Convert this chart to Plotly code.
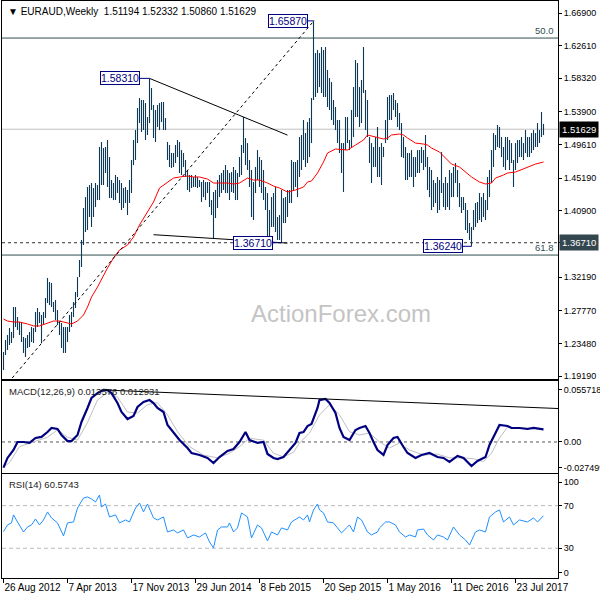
import plotly.graph_objects as go
import pandas as pd

# ---------------- data ----------------
dates = pd.date_range("2012-08-26", periods=271, freq="7D")

high = [
    1.2235, 1.2392, 1.2458, 1.2550, 1.2498, 1.2826, 1.2826, 1.2695, 1.2629, 1.2616,
    1.2432, 1.2418, 1.2458, 1.2498, 1.2563, 1.2550, 1.2761, 1.2813, 1.2761, 1.2721,
    1.2761, 1.2944, 1.3207, 1.3155, 1.3142, 1.2892, 1.2918, 1.2787, 1.2629, 1.2616,
    1.2563, 1.2563, 1.2563, 1.2721, 1.2761, 1.2892, 1.3024, 1.3220, 1.3444, 1.3707,
    1.4127, 1.4271, 1.4403, 1.4429, 1.4456, 1.4390, 1.4456, 1.4429, 1.4929, 1.4995,
    1.4916, 1.4929, 1.5021, 1.4797, 1.4495, 1.4456, 1.4561, 1.4535, 1.4495, 1.4456,
    1.4390, 1.4403, 1.4364, 1.4495, 1.4758, 1.5021, 1.5152, 1.5441, 1.5573, 1.5547,
    1.5547, 1.5507, 1.5323, 1.5831, 1.5705, 1.5481, 1.5415, 1.5481, 1.5507, 1.5520,
    1.5520, 1.5310, 1.4995, 1.4955, 1.4850, 1.4850, 1.4955, 1.5021, 1.4995, 1.4889,
    1.4850, 1.4758, 1.4627, 1.4561, 1.4561, 1.4535, 1.4561, 1.4535, 1.4495, 1.4469,
    1.4495, 1.4469, 1.4469, 1.4469, 1.4232, 1.4338, 1.4364, 1.4495, 1.4561, 1.4587,
    1.4627, 1.4692, 1.4627, 1.4587, 1.4600, 1.4666, 1.4627, 1.4587, 1.4797, 1.4955,
    1.5323, 1.5047, 1.4981, 1.4758, 1.4627, 1.4469, 1.4666, 1.4889, 1.4797, 1.4758,
    1.4627, 1.4403, 1.4324, 1.4101, 1.4271, 1.4324, 1.4403, 1.4009, 1.4035, 1.4364,
    1.4258, 1.4271, 1.4364, 1.4364, 1.4758, 1.4732, 1.4732, 1.4758, 1.5060, 1.5087,
    1.5284, 1.5113, 1.5257, 1.5310, 1.5573, 1.6587, 1.6164, 1.6204, 1.6164, 1.6243,
    1.6204, 1.6243, 1.5941, 1.5836, 1.5783, 1.5547, 1.5455, 1.5284, 1.5284, 1.4981,
    1.4981, 1.5323, 1.5323, 1.5021, 1.5415, 1.5717, 1.6072, 1.6033, 1.5717, 1.5810,
    1.6243, 1.5678, 1.5547, 1.5060, 1.4981, 1.4929, 1.5060, 1.5192, 1.4929, 1.4981,
    1.4929, 1.5284, 1.5586, 1.5612, 1.5612, 1.5639, 1.5547, 1.5507, 1.5376, 1.5244,
    1.5060, 1.4929, 1.4850, 1.4850, 1.4889, 1.4797, 1.4797, 1.4889, 1.4889, 1.4929,
    1.4889, 1.5087, 1.4797, 1.4666, 1.4627, 1.4495, 1.4456, 1.4535, 1.4495, 1.4863,
    1.4456, 1.4535, 1.4456, 1.4627, 1.4587, 1.4666, 1.4719, 1.4627, 1.4456, 1.4271,
    1.4271, 1.4193, 1.4101, 1.3930, 1.3878, 1.4101, 1.4193, 1.4206, 1.4324, 1.4271,
    1.4324, 1.4232, 1.4535, 1.4627, 1.4889, 1.5113, 1.5087, 1.5218, 1.5192, 1.5060,
    1.4929, 1.5060, 1.5060, 1.5021, 1.4981, 1.4758, 1.4981, 1.5021, 1.5021, 1.5060,
    1.4981, 1.5152, 1.5060, 1.5060, 1.5113, 1.5152, 1.5113, 1.5244, 1.5152, 1.5389,
    1.52332,
]

low = [
    1.1998, 1.2195, 1.2261, 1.2327, 1.2353, 1.2418, 1.2563, 1.2524, 1.2458, 1.2366,
    1.2222, 1.2169, 1.2287, 1.2300, 1.2366, 1.2353, 1.2498, 1.2563, 1.2616, 1.2353,
    1.2590, 1.2682, 1.2879, 1.2852, 1.2826, 1.2761, 1.2655, 1.2590, 1.2458, 1.2287,
    1.2222, 1.2222, 1.2366, 1.2498, 1.2563, 1.2695, 1.2813, 1.2957, 1.3220, 1.3352,
    1.3641, 1.3812, 1.3838, 1.4009, 1.3878, 1.4009, 1.4140, 1.4232, 1.4232, 1.4429,
    1.4429, 1.4587, 1.4403, 1.4258, 1.4258, 1.4232, 1.4232, 1.4324, 1.4193, 1.4101,
    1.4127, 1.4193, 1.4035, 1.4193, 1.4324, 1.4692, 1.4758, 1.4981, 1.5244, 1.5126,
    1.5152, 1.5021, 1.5087, 1.5244, 1.5415, 1.5047, 1.4995, 1.5192, 1.5152, 1.5257,
    1.5152, 1.5152, 1.4758, 1.4666, 1.4653, 1.4666, 1.4719, 1.4797, 1.4587, 1.4561,
    1.4666, 1.4535, 1.4364, 1.4338, 1.4390, 1.4403, 1.4403, 1.4390, 1.4403, 1.4206,
    1.4271, 1.4232, 1.4324, 1.4140, 1.4035, 1.3727, 1.3996, 1.4127, 1.4271, 1.4324,
    1.4364, 1.4324, 1.4324, 1.4232, 1.4338, 1.4324, 1.4232, 1.4232, 1.4535, 1.4561,
    1.4850, 1.4692, 1.4627, 1.4403, 1.4009, 1.3969, 1.4324, 1.4495, 1.4403, 1.4324,
    1.4232, 1.4101, 1.3707, 1.3707, 1.3878, 1.3878, 1.3812, 1.3707, 1.3707, 1.3671,
    1.3930, 1.3930, 1.4009, 1.4193, 1.4193, 1.4364, 1.4403, 1.4271, 1.4535, 1.4627,
    1.4758, 1.4666, 1.4719, 1.4797, 1.4981, 1.5547, 1.5586, 1.5639, 1.5717, 1.5639,
    1.5586, 1.5586, 1.5455, 1.5415, 1.5284, 1.5218, 1.5152, 1.4981, 1.4850, 1.4587,
    1.4338, 1.4889, 1.4981, 1.4889, 1.4916, 1.5060, 1.5323, 1.5323, 1.5192, 1.5244,
    1.5639, 1.5152, 1.5060, 1.4719, 1.4456, 1.4666, 1.4666, 1.4535, 1.4535, 1.4429,
    1.4797, 1.4981, 1.5021, 1.5284, 1.5284, 1.5415, 1.5323, 1.5192, 1.5152, 1.4797,
    1.4784, 1.4495, 1.4495, 1.4535, 1.4535, 1.4403, 1.4535, 1.4587, 1.4587, 1.4719,
    1.4627, 1.4666, 1.4364, 1.4271, 1.4101, 1.4140, 1.4193, 1.4061, 1.4101, 1.4324,
    1.4140, 1.4101, 1.4140, 1.4101, 1.4271, 1.4271, 1.4456, 1.4271, 1.4140, 1.4061,
    1.4101, 1.3838, 1.3799, 1.3707, 1.3624, 1.3838, 1.3878, 1.3930, 1.3969, 1.3943,
    1.4009, 1.3969, 1.4101, 1.4271, 1.4456, 1.4666, 1.4889, 1.4929, 1.4916, 1.4797,
    1.4666, 1.4627, 1.4758, 1.4627, 1.4719, 1.4403, 1.4627, 1.4719, 1.4797, 1.4797,
    1.4758, 1.4850, 1.4797, 1.4797, 1.4850, 1.4889, 1.4929, 1.4929, 1.4981, 1.5060,
    1.50860,
]

# moving average (red), sampled bar index -> value
ma_idx = [0, 2, 5, 8, 12, 15, 18, 22, 25, 28, 32, 34, 37, 40, 42, 44, 47, 50, 52, 55,
          58, 62, 65, 68, 72, 75, 78, 82, 85, 88, 92, 95, 98, 102, 105, 108, 112, 115, 118, 122,
          125, 128, 132, 135, 138, 142, 146, 150, 152, 154, 157, 160, 162, 166, 170, 172, 176, 180, 182, 184,
          187, 190, 192, 194, 198, 200, 202, 206, 210, 212, 214, 218, 221, 224, 228, 231, 234, 238, 241, 244,
          246, 250, 252, 256, 260, 262, 266, 270]
ma_val = [1.2668, 1.2642, 1.2629, 1.2629, 1.2603, 1.2577, 1.2577, 1.2616, 1.2642, 1.2642,
          1.2616, 1.2603, 1.2642, 1.2721, 1.2826, 1.2957, 1.3089, 1.3247, 1.3339, 1.3470,
          1.3575, 1.3641, 1.3746, 1.3904, 1.4075, 1.4206, 1.4390, 1.4469, 1.4521, 1.4535,
          1.4548, 1.4535, 1.4535, 1.4508, 1.4456, 1.4456, 1.4456, 1.4443, 1.4456, 1.4521,
          1.4495, 1.4495, 1.4456, 1.4416, 1.4390, 1.4337, 1.4364, 1.4403, 1.4469, 1.4482,
          1.4587, 1.4732, 1.4850, 1.4903, 1.4889, 1.4889, 1.4955, 1.5021, 1.5087, 1.5074,
          1.5047, 1.5034, 1.5047, 1.5087, 1.5100, 1.5087, 1.5047, 1.4981, 1.4968, 1.4955,
          1.4916, 1.4863, 1.4784, 1.4705, 1.4666, 1.4600, 1.4535, 1.4469, 1.4443, 1.4456,
          1.4521, 1.4561, 1.4587, 1.4600, 1.4640, 1.4666, 1.4705, 1.4732]

macd_idx = [0, 2, 5, 7, 10, 13, 16, 19, 22, 24, 27, 29, 32, 34, 37, 39, 42, 44, 47, 50,
            52, 54, 57, 59, 62, 65, 67, 70, 73, 75, 77, 80, 82, 85, 88, 92, 94, 98, 102, 105,
            108, 112, 115, 118, 121, 123, 127, 130, 132, 135, 137, 140, 143, 146, 148, 150, 152, 154, 157, 158,
            161, 163, 166, 168, 170, 173, 176, 178, 181, 183, 185, 187, 190, 192, 195, 197, 200, 202, 206, 209,
            213, 217, 220, 223, 227, 230, 234, 237, 241, 243, 246, 248, 252, 254, 258, 262, 265, 270]
macd_val = [-0.0275, -0.0171, -0.0086, 0.0, 0.0, -0.0010, 0.0043, 0.0054, 0.0107, 0.0150,
            0.0139, 0.0075, 0.0010, 0.0010, 0.0075, 0.0214, 0.0364, 0.0471, 0.0524, 0.0557,
            0.0556, 0.0524, 0.0417, 0.0321, 0.0246, 0.0278, 0.0375, 0.0428, 0.0449, 0.0417,
            0.0364, 0.0321, 0.0182, 0.0096, 0.0021, -0.0064, -0.0118, -0.0139, -0.0171, -0.0225,
            -0.0161, -0.0096, -0.0075, 0.0, 0.0107, 0.0021, -0.0010, 0.0, -0.0128, -0.0171,
            -0.0182, -0.0161, -0.0086, -0.0010, 0.0096, 0.0107, 0.0171, 0.0193, 0.0364, 0.0449,
            0.0460, 0.0417, 0.0310, 0.0150, 0.0054, 0.0021, 0.0128, 0.0150, 0.0171, 0.0096,
            0.0, -0.0086, -0.0139, -0.0032, 0.0043, 0.0054, -0.0054, -0.0118, -0.0171, -0.0139,
            -0.0118, -0.0161, -0.0171, -0.0214, -0.0150, -0.0171, -0.0257, -0.0203, -0.0161, -0.0032,
            0.0096, 0.0182, 0.0171, 0.0150, 0.0150, 0.0139, 0.0150, 0.013576]

sig_idx = [0, 3, 8, 15, 22, 27, 32, 37, 42, 47, 52, 57, 62, 67, 72, 77, 82, 87, 93, 100,
           107, 113, 118, 123, 130, 135, 140, 145, 148, 153, 158, 163, 168, 173, 178, 183, 188, 193, 198, 203,
           210, 217, 223, 230, 235, 240, 244, 248, 252, 258, 265, 270]
sig_val = [-0.0270, -0.0220, -0.0050, 0.0, 0.0050, 0.0130, 0.0050, 0.0020, 0.0210, 0.0450,
           0.0530, 0.0480, 0.0320, 0.0310, 0.0400, 0.0420, 0.0290, 0.0110, -0.0050, -0.0140,
           -0.0170, -0.0120, -0.0050, 0.0040, 0.0020, -0.0120, -0.0160, -0.0110, -0.0010, 0.0096,
           0.0290, 0.0400, 0.0290, 0.0110, 0.0075, 0.0096, 0.0, -0.0064, -0.0010, -0.0086,
           -0.0140, -0.0130, -0.0170, -0.0170, -0.0180, -0.0210, -0.0120, 0.0043, 0.0160, 0.0150,
           0.0150, 0.012931]

rsi_idx = [0, 2, 4, 5, 7, 10, 12, 14, 16, 18, 20, 22, 24, 27, 30, 32, 35, 37, 40, 42,
           44, 46, 48, 49, 51, 53, 56, 58, 61, 63, 66, 68, 70, 72, 75, 77, 80, 82, 85, 87,
           90, 92, 95, 98, 101, 103, 105, 107, 109, 112, 113, 115, 117, 119, 122, 124, 127, 129, 132, 134,
           137, 139, 142, 144, 148, 150, 152, 153, 155, 157, 158, 160, 162, 165, 167, 169, 172, 173, 175, 177,
           179, 182, 184, 187, 188, 191, 193, 196, 198, 201, 203, 206, 207, 210, 212, 215, 217, 220, 222, 225,
           228, 231, 233, 236, 238, 241, 243, 246, 248, 250, 253, 255, 258, 262, 265, 267, 270]
rsi_val = [45.6, 51.9, 53.8, 61.3, 54.7, 45.3, 50.0, 51.9, 57.5, 51.9, 56.6, 64.1, 58.5, 53.8, 41.6, 53.8, 54.7, 67.8, 77.2, 78.2,
           76.3, 73.5, 80.0, 68.8, 71.6, 59.4, 61.3, 53.8, 56.6, 54.7, 67.8, 72.5, 64.1, 71.6, 58.5, 56.6, 59.4, 45.3, 47.2, 44.4,
           47.2, 39.7, 42.5, 40.6, 44.4, 35.9, 30.3, 47.2, 50.0, 50.0, 53.8, 45.3, 49.1, 63.2, 59.4, 39.7, 51.9, 49.1, 36.9, 45.3,
           42.5, 49.1, 47.2, 54.7, 59.4, 56.6, 61.3, 54.7, 66.0, 71.6, 66.0, 63.2, 54.7, 53.8, 49.1, 44.4, 50.0, 51.9, 45.3, 59.4,
           56.6, 45.3, 42.5, 45.3, 49.1, 54.7, 54.7, 51.9, 45.3, 40.6, 42.5, 40.6, 47.2, 48.1, 42.5, 37.8, 42.5, 40.6, 37.8, 50.0,
           42.5, 37.8, 33.1, 45.3, 47.2, 45.3, 59.4, 64.1, 66.0, 54.7, 59.4, 51.9, 56.6, 54.7, 58.5, 54.7, 60.5743]

price_ticks = [1.66900, 1.62610, 1.58320, 1.53900, 1.49610, 1.45190,
               1.40900, 1.36710, 1.32190, 1.27770, 1.23480, 1.19190]
macd_ticks = [0.055718, 0.0, -0.027499]
macd_tick_text = ["0.055718", "0.00", "-0.027499"]
rsi_levels = [70, 30]
x_tick_labels = ["26 Aug 2012", "7 Apr 2013", "17 Nov 2013", "29 Jun 2014", "8 Feb 2015",
                 "20 Sep 2015", "1 May 2016", "11 Dec 2016", "23 Jul 2017"]

last_ohlc = [1.51194, 1.52332, 1.50860, 1.51629]
macd_last = [0.013576, 0.012931]
rsi_last = 60.5743
fib_50 = 1.6361
fib_618 = 1.3509
support_level = 1.3671

# ---------------- figure ----------------
FONT = "Liberation Sans"
BAR_COLOR = "#0c3a56"
TICK_FS = 9

date_labels = [f"{d.day} {d.strftime('%b %Y')}" for d in dates]
tick_pos = [date_labels.index(t) for t in x_tick_labels]

bx, by = [], []
for i, (h, l) in enumerate(zip(high, low)):
    bx += [i, i, None]
    by += [l, h, None]

fig = go.Figure()
fig.add_trace(go.Scatter(x=bx, y=by, mode="lines", line=dict(color=BAR_COLOR, width=1.1),
                         xaxis="x", yaxis="y", hoverinfo="skip"))
fig.add_trace(go.Scatter(x=ma_idx, y=ma_val, mode="lines", line=dict(color="#ff0000", width=1),
                         xaxis="x", yaxis="y"))
fig.add_trace(go.Scatter(x=sig_idx, y=sig_val, mode="lines", line=dict(color="#c0c0c0", width=1),
                         xaxis="x2", yaxis="y2"))
fig.add_trace(go.Scatter(x=macd_idx, y=macd_val, mode="lines", line=dict(color="#000080", width=2.2),
                         xaxis="x2", yaxis="y2"))
fig.add_trace(go.Scatter(x=rsi_idx, y=rsi_val, mode="lines", line=dict(color="#1e90ff", width=1),
                         xaxis="x3", yaxis="y3"))

XR = [-0.75, 277.25]
axis_common = dict(showline=True, mirror=True, linecolor="black", linewidth=1,
                   showgrid=False, zeroline=False)

shapes = []
def hline(y, yref, color, dash="solid", width=1, xref="x domain", x0=0, x1=1):
    shapes.append(dict(type="line", xref=xref, yref=yref, x0=x0, x1=x1, y0=y, y1=y,
                       line=dict(color=color, width=width, dash=dash), layer="below"))

# main panel horizontal lines
hline(last_ohlc[3], "y", "#c0c0c0")
hline(fib_50, "y", "#2f4f4f")
hline(fib_618, "y", "#2f4f4f")
hline(support_level, "y", "#333333", dash="3px,3px")

# trend lines (anchored to bars)
def ext_line(i1, y1, i2, y2, xa, xb, yref, color="black", dash="solid", width=1):
    s = (y2 - y1) / (i2 - i1)
    shapes.append(dict(type="line", xref="x", yref=yref, x0=xa, x1=xb,
                       y0=y1 + (xa - i1) * s, y1=y1 + (xb - i1) * s,
                       line=dict(color=color, width=width, dash=dash)))

ext_line(73, high[73], 120, high[120], 73, 142, "y")
ext_line(105, low[105], 139, low[139], 75, 142, "y")
ext_line(4.35, 1.1893, 155.5, high[155] + 0.001, 4.35, 155.5, "y", dash="3px,3px")
# MACD divergence line
ext_line(50, macd_val[macd_idx.index(50)], 161, macd_val[macd_idx.index(161)], 49, XR[1], "y2")

# MACD zero line, RSI levels
hline(0, "y2", "#555555", dash="3px,3px")
for lv in rsi_levels:
    hline(lv, "y3", "#bbbbbb", dash="4px,3px")

annotations = []
# price label boxes with connectors
def price_box(i_bar, price, right_i):
    shapes.append(dict(type="line", xref="x", yref="y", x0=right_i, x1=i_bar, y0=price, y1=price,
                       line=dict(color="#000080", width=1)))
    annotations.append(dict(x=right_i, y=price, xref="x", yref="y", text=f"{price:.5f}",
                            showarrow=False, xanchor="right", yanchor="middle",
                            font=dict(family=FONT, size=10.5, color="#000080"),
                            bgcolor="white", bordercolor="#000080", borderwidth=1, borderpad=0))

price_box(73, high[73], 68)
price_box(155, high[155], 152)
price_box(139, low[139], 134.5)
price_box(234, low[234], 229.5)

# right axis value boxes
annotations.append(dict(x=1, y=last_ohlc[3], xref="paper", yref="y", text=f"{last_ohlc[3]:.5f}",
                        showarrow=False, xanchor="left", yanchor="middle", xshift=1,
                        font=dict(family=FONT, size=9.5, color="white"), bgcolor="black", borderpad=2))
annotations.append(dict(x=1, y=support_level, xref="paper", yref="y", text=f"{support_level:.5f}",
                        showarrow=False, xanchor="left", yanchor="middle", xshift=1,
                        font=dict(family=FONT, size=9.5, color="white"), bgcolor="#34474f", borderpad=2))

# fib labels
annotations.append(dict(x=1, y=fib_50, xref="x domain", yref="y", text="50.0", showarrow=False,
                        xanchor="right", yanchor="bottom", xshift=-2,
                        font=dict(family=FONT, size=9.5, color="#2f4f4f")))
annotations.append(dict(x=1, y=fib_618, xref="x domain", yref="y", text="61.8", showarrow=False,
                        xanchor="right", yanchor="bottom", xshift=-2,
                        font=dict(family=FONT, size=9.5, color="#2f4f4f")))

# titles
annotations.append(dict(x=0.008, y=0.9735, xref="x domain", yref="y domain",
                        text="▼ EURAUD,Weekly  " + " ".join(f"{v:.5f}" for v in last_ohlc),
                        showarrow=False, xanchor="left", yanchor="middle",
                        font=dict(family=FONT, size=10, color="black")))
annotations.append(dict(x=0.009, y=0.89, xref="x domain", yref="y2 domain",
                        text=f"MACD(12,26,9) {macd_last[0]:.6f} {macd_last[1]:.6f}",
                        showarrow=False, xanchor="left", yanchor="middle",
                        font=dict(family=FONT, size=9.5, color="#222222")))
annotations.append(dict(x=0.009, y=0.904, xref="x domain", yref="y3 domain",
                        text=f"RSI(14) {rsi_last:.4f}",
                        showarrow=False, xanchor="left", yanchor="middle",
                        font=dict(family=FONT, size=9.5, color="#222222")))
# watermark
annotations.append(dict(x=0.61, y=0.172, xref="x domain", yref="y domain", text="ActionForex.com",
                        showarrow=False, xanchor="center", yanchor="middle",
                        font=dict(family=FONT, size=24, color="#c4c4c4")))

price_tick_text = ["" if abs(v - support_level) < 1e-9 else f"{v:.5f}" for v in price_ticks]

fig.update_layout(
    width=600, height=600,
    margin=dict(l=2, r=42, t=1, b=22),
    paper_bgcolor="white", plot_bgcolor="white",
    showlegend=False,
    font=dict(family=FONT, size=TICK_FS, color="black"),
    xaxis=dict(domain=[0, 1], anchor="y", range=XR, showticklabels=False, ticks="", **axis_common),
    xaxis2=dict(domain=[0, 1], anchor="y2", matches="x", showticklabels=False, ticks="", **axis_common),
    xaxis3=dict(domain=[0, 1], anchor="y3", matches="x", tickmode="array", tickvals=tick_pos,
                ticktext=x_tick_labels, ticks="outside", ticklen=4, tickcolor="black", tickangle=0,
                ticklabelposition="outside right", tickfont=dict(size=10), automargin=False,
                **axis_common),
    yaxis=dict(domain=[0.3449, 1], anchor="x", range=[1.1880, 1.6848], side="right",
               tickmode="array", tickvals=price_ticks, ticktext=price_tick_text,
               ticks="outside", ticklen=3, tickcolor="black", automargin=False, **axis_common),
    yaxis2=dict(domain=[0.1820, 0.3414], anchor="x2", range=[-0.0332, 0.0653], side="right",
                tickmode="array", tickvals=macd_ticks, ticktext=macd_tick_text,
                ticks="outside", ticklen=3, tickcolor="black", automargin=False, **axis_common),
    yaxis3=dict(domain=[0, 0.1802], anchor="x3", range=[2.1, 99.7], side="right",
                tickmode="array", tickvals=[92.2, 70, 30, 6.8], ticktext=["100", "70", "30", "0"],
                ticks="outside", ticklen=3, tickcolor="black", automargin=False, **axis_common),
    shapes=shapes,
    annotations=annotations,
)

fig.write_html("out.html", config={"displayModeBar": False},
               post_script="document.body.style.margin='0';document.body.style.padding='0';")
